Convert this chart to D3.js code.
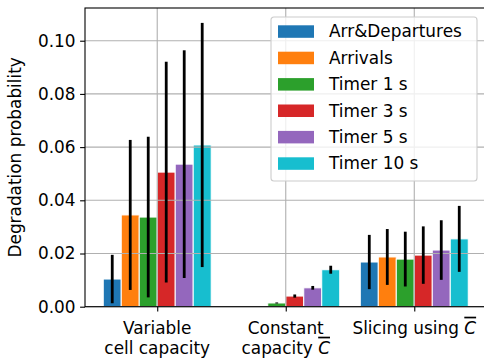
<!DOCTYPE html>
<html>
<head>
<meta charset="utf-8">
<script src="https://cdn.jsdelivr.net/npm/d3@7"></script>
<style>
  body { margin: 0; background: #fff; }
  text { font-family: "DejaVu Sans", sans-serif; }
</style>
</head>
<body>
<div id="chart"></div>
<script>
// categories on the x axis (lines of each label)
const categories = [
  ["Variable", "cell capacity"],
  ["Constant", "capacity C"],
  ["Slicing using C"]
];
const seriesNames = ["Arr&Departures", "Arrivals", "Timer 1 s", "Timer 3 s", "Timer 5 s", "Timer 10 s"];
const colours = ["#1f77b4", "#ff7f0e", "#2ca02c", "#d62728", "#9467bd", "#17becf"];

// mean degradation probability, one array per series (one value per category)
const arrDepartures = [0.0104, 0.0, 0.0168];
const arrivals      = [0.0345, 0.0, 0.0187];
const timer1        = [0.0337, 0.0014, 0.0179];
const timer3        = [0.0506, 0.0040, 0.0194];
const timer5        = [0.0536, 0.0071, 0.0213];
const timer10       = [0.0608, 0.0139, 0.0255];

// error bar half widths
const errArrDepartures = [0.0091, 0.0, 0.0102];
const errArrivals      = [0.0282, 0.0, 0.0105];
const errTimer1        = [0.0302, 0.0002, 0.0103];
const errTimer3        = [0.0415, 0.0006, 0.0108];
const errTimer5        = [0.0428, 0.0007, 0.0112];
const errTimer10       = [0.0459, 0.0015, 0.0124];

const yTicks = [0, 0.02, 0.04, 0.06, 0.08, 0.10];

const values = [arrDepartures, arrivals, timer1, timer3, timer5, timer10];
const errors = [errArrDepartures, errArrivals, errTimer1, errTimer3, errTimer5, errTimer10];

const width = 484, height = 362;
const mLeft = 85, mTop = 8, mRight = 486.5, mBottom = 306.7;
const barWidth = 0.14;
const fontSize = 16.9;

const svg = d3.select("#chart").append("svg")
  .attr("width", width)
  .attr("height", height);

const x = d3.scaleLinear().domain([-0.562, 2.562]).range([mLeft, mRight]);
const y = d3.scaleLinear().domain([0, 0.1123]).range([mBottom, mTop]);

// bars
const bars = svg.append("g");
values.forEach((vals, s) => {
  bars.selectAll(null)
    .data(vals)
    .enter()
    .append("rect")
    .attr("x", (d, i) => x(i + (s - 2.5) * barWidth - barWidth / 2))
    .attr("width", x(barWidth) - x(0))
    .attr("y", d => y(d))
    .attr("height", d => y(0) - y(d))
    .attr("fill", colours[s])
    .attr("stroke", "#fff")
    .attr("stroke-width", 1);
});

// grid lines (drawn over the bars, like matplotlib's default)
const grid = svg.append("g");
grid.selectAll(null)
  .data(yTicks)
  .enter()
  .append("line")
  .attr("x1", mLeft).attr("x2", mRight)
  .attr("y1", d => y(d)).attr("y2", d => y(d))
  .attr("stroke", "#b0b0b0").attr("stroke-width", 1.1);
grid.selectAll(null)
  .data(categories)
  .enter()
  .append("line")
  .attr("x1", (d, i) => x(i)).attr("x2", (d, i) => x(i))
  .attr("y1", mTop).attr("y2", mBottom)
  .attr("stroke", "#b0b0b0").attr("stroke-width", 1.1);

// error bars
const errG = svg.append("g");
values.forEach((vals, s) => {
  errG.selectAll(null)
    .data(vals.map((v, i) => ({v: v, e: errors[s][i], i: i})).filter(d => d.e > 0))
    .enter()
    .append("line")
    .attr("x1", d => x(d.i + (s - 2.5) * barWidth))
    .attr("x2", d => x(d.i + (s - 2.5) * barWidth))
    .attr("y1", d => y(d.v - d.e))
    .attr("y2", d => y(d.v + d.e))
    .attr("stroke", "#000")
    .attr("stroke-width", 2.8);
});

// axes
const yAxis = svg.append("g")
  .attr("transform", `translate(${mLeft},0)`)
  .call(d3.axisLeft(y).tickValues(yTicks).tickFormat(d3.format(".2f")).tickSize(4.9).tickPadding(4.5));
yAxis.select(".domain").remove();
yAxis.selectAll(".tick line").attr("stroke-width", 1.1);
yAxis.selectAll("text").style("font-size", fontSize + "px").attr("fill", "#000");

const xAxis = svg.append("g")
  .attr("transform", `translate(0,${mBottom})`)
  .call(d3.axisBottom(x).tickValues([0, 1, 2]).tickFormat("").tickSize(4.9));
xAxis.select(".domain").remove();
xAxis.selectAll(".tick line").attr("stroke-width", 1.1);

// multi-line tick labels, "C" with an overline
const labels = svg.append("g");
categories.forEach((lines, i) => {
  lines.forEach((line, j) => {
    const t = labels.append("text")
      .attr("x", x(i))
      .attr("y", mBottom + 27 + j * 20)
      .attr("text-anchor", "middle")
      .style("font-size", fontSize + "px");
    if (line.endsWith(" C")) {
      t.append("tspan").text(line.slice(0, -1));
      t.append("tspan").text("C")
        .style("font-style", "italic")
        .style("text-decoration", "overline");
    } else {
      t.text(line);
    }
  });
});

// spines
svg.append("rect")
  .attr("x", mLeft).attr("y", mTop)
  .attr("width", mRight - mLeft).attr("height", mBottom - mTop)
  .attr("fill", "none")
  .attr("stroke", "#000")
  .attr("stroke-width", 1.1);

// y label
svg.append("text")
  .attr("transform", `translate(21,${(mTop + mBottom) / 2}) rotate(-90)`)
  .attr("text-anchor", "middle")
  .style("font-size", fontSize + "px")
  .text("Degradation probability");

// legend
const legend = svg.append("g").attr("transform", "translate(271,17)");
legend.append("rect")
  .attr("width", 206).attr("height", 164)
  .attr("rx", 3)
  .attr("fill", "#fff").attr("fill-opacity", 0.8)
  .attr("stroke", "#ccc").attr("stroke-width", 1.1);
const rows = legend.selectAll(null)
  .data(seriesNames)
  .enter()
  .append("g")
  .attr("transform", (d, i) => `translate(0,${14.3 + i * 26.4})`);
rows.append("rect")
  .attr("x", 7).attr("y", -6)
  .attr("width", 36).attr("height", 12.5)
  .attr("fill", (d, i) => colours[i]);
rows.append("text")
  .attr("x", 58).attr("y", 6)
  .style("font-size", fontSize + "px")
  .text(d => d);
</script>
</body>
</html>
